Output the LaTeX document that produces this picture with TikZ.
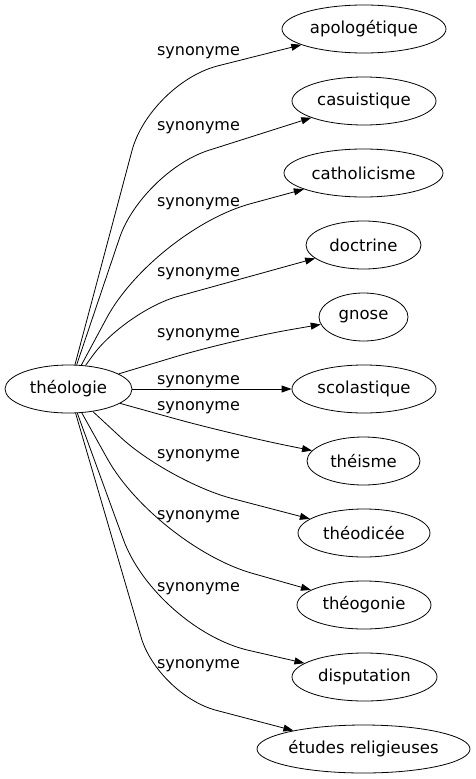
\documentclass[tikz,border=0pt]{standalone}
\usepackage{fontspec}
\setmainfont{DejaVu Sans}
\usetikzlibrary{shapes.geometric,arrows.meta}
\begin{document}
\begin{tikzpicture}[x=1pt,y=-1pt,
  word/.style={ellipse, draw, line width=0.8pt, inner sep=0pt, minimum height=48pt,
    font=\fontsize{16.5}{20}\selectfont},
  syn/.style={-{Triangle[length=10pt,width=7pt]}, line width=0.8pt},
  lab/.style={anchor=base, inner sep=0pt, font=\fontsize{16}{19}\selectfont}]
\useasboundingbox (0,0) rectangle (476,779);
% nodes
\node[word, minimum width=127pt] (theo) at (68.5,389) {théologie};
\node[word, minimum width=164pt] (apo)  at (364,29)  {apologétique};
\node[word, minimum width=144pt] (cas)  at (364,101) {casuistique};
\node[word, minimum width=159pt] (cat)  at (363.5,173) {catholicisme};
\node[word, minimum width=115pt] (doc)  at (363.5,245) {doctrine};
\node[word, minimum width=89pt]  (gno)  at (363.5,317) {gnose};
\node[word, minimum width=144pt] (sco)  at (364,389) {scolastique};
\node[word, minimum width=113pt] (the)  at (363.5,461) {théisme};
\node[word, minimum width=132pt] (tdc)  at (364,533) {théodicée};
\node[word, minimum width=134pt] (tgo)  at (364,605) {théogonie};
\node[word, minimum width=145pt] (dis)  at (364.5,677) {disputation};
\node[word, minimum width=213pt] (etu)  at (363.5,749) {études religieuses};
% bends
\coordinate (c1) at (150,83);
\coordinate (c2) at (142,171.5);
\coordinate (c3) at (154,230);
\coordinate (c4) at (125,311);
\coordinate (c5) at (231,340);
\coordinate (c7) at (230,434);
\coordinate (c8) at (169,482);
\coordinate (c9) at (156,546);
\coordinate (c10) at (156,629);
\coordinate (c11) at (158,695);
% edges
\draw[syn, rounded corners=70pt] (theo) -- (c1) -- (apo);
\draw[syn, rounded corners=70pt] (theo) -- (c2) -- (cas);
\draw[syn, rounded corners=100pt] (theo) -- (c3) -- (cat);
\draw[syn, rounded corners=55pt] (theo) -- (c4) -- (doc);
\draw[syn, rounded corners=60pt] (theo) -- (c5) -- (gno);
\draw[syn] (theo) -- (sco);
\draw[syn, rounded corners=60pt] (theo) -- (c7) -- (the);
\draw[syn, rounded corners=65pt] (theo) -- (c8) -- (tdc);
\draw[syn, rounded corners=100pt] (theo) -- (c9) -- (tgo);
\draw[syn, rounded corners=95pt] (theo) -- (c10) -- (dis);
\draw[syn, rounded corners=60pt] (theo) -- (c11) -- (etu);
% labels
\node[lab] (l1)  at (198.5,55)  {synonyme};
\node[lab] (l2)  at (198.5,130.5) {synonyme};
\node[lab] (l3)  at (198.5,206) {synonyme};
\node[lab] (l4)  at (198.5,276) {synonyme};
\node[lab] (l5)  at (198.5,337) {synonyme};
\node[lab] (l6)  at (198.5,384) {synonyme};
\node[lab] (l7)  at (198.5,410) {synonyme};
\node[lab] (l8)  at (198.5,458) {synonyme};
\node[lab] (l9)  at (198.5,519.5) {synonyme};
\node[lab] (l10) at (198.5,591) {synonyme};
\node[lab] (l11) at (198.5,668) {synonyme};
\end{tikzpicture}
\end{document}
